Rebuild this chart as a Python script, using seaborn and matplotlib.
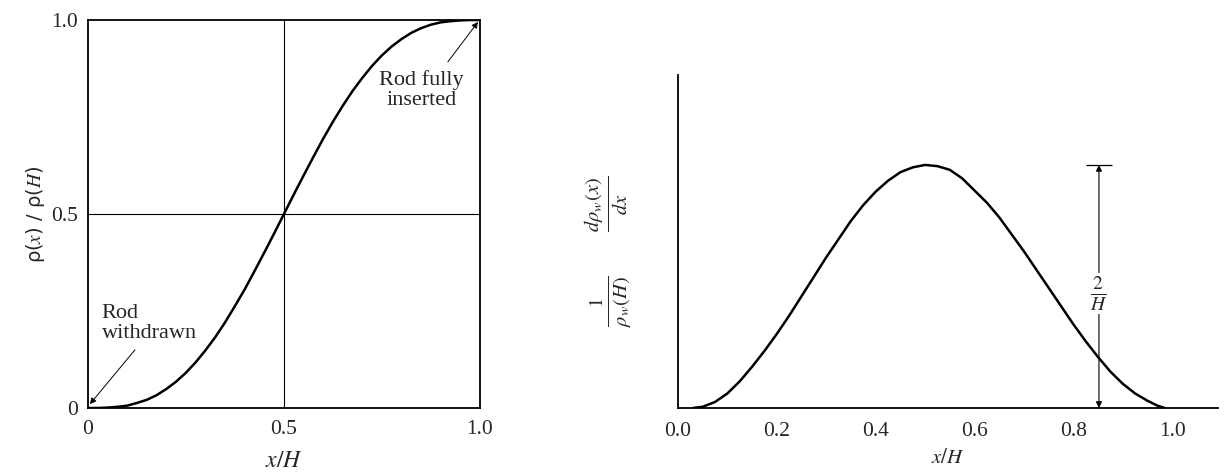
import numpy as np
import pandas as pd
import matplotlib
matplotlib.use("Agg")
import matplotlib.pyplot as plt
import seaborn as sns

# integral rod worth
x_int = [0.000, 0.025, 0.050, 0.075, 0.100, 0.125, 0.150, 0.175, 0.200, 0.225,
         0.250, 0.275, 0.300, 0.325, 0.350, 0.375, 0.400, 0.425, 0.450, 0.475,
         0.500, 0.525, 0.550, 0.575, 0.600, 0.625, 0.650, 0.675, 0.700, 0.725,
         0.750, 0.775, 0.800, 0.825, 0.850, 0.875, 0.900, 0.925, 0.950, 0.975, 1.000]
rho_int = [0.000, 0.000, 0.001, 0.003, 0.006, 0.013, 0.021, 0.033, 0.049, 0.068,
           0.091, 0.118, 0.149, 0.183, 0.221, 0.263, 0.306, 0.353, 0.401, 0.450,
           0.500, 0.550, 0.599, 0.647, 0.694, 0.738, 0.779, 0.817, 0.851, 0.882,
           0.909, 0.932, 0.951, 0.967, 0.979, 0.988, 0.994, 0.997, 0.999, 1.000, 1.000]

# differential rod worth
x_diff = [0.030, 0.050, 0.075, 0.100, 0.125, 0.150, 0.175, 0.200, 0.225, 0.250,
          0.275, 0.300, 0.325, 0.350, 0.375, 0.400, 0.425, 0.450, 0.475, 0.500,
          0.525, 0.550, 0.575, 0.600, 0.625, 0.650, 0.675, 0.700, 0.725, 0.750,
          0.775, 0.800, 0.825, 0.850, 0.875, 0.900, 0.925, 0.950, 0.970, 0.985]
rho_diff = [0.00, 0.01, 0.05, 0.12, 0.22, 0.34, 0.47, 0.61, 0.76, 0.92,
            1.08, 1.24, 1.39, 1.54, 1.67, 1.78, 1.87, 1.94, 1.98, 2.00,
            1.99, 1.96, 1.89, 1.79, 1.69, 1.57, 1.43, 1.29, 1.14, 0.99,
            0.84, 0.69, 0.55, 0.42, 0.30, 0.20, 0.12, 0.06, 0.02, 0.00]

left_ticks = [0, 0.5, 1.0]
left_ticklabels = ["0", "0.5", "1.0"]
right_xticks = [0.0, 0.2, 0.4, 0.6, 0.8, 1.0]
right_xticklabels = ["0.0", "0.2", "0.4", "0.6", "0.8", "1.0"]

peak_x = 0.852   # where the 2/H dimension arrow stands
peak_val = 2.0

df_int = pd.DataFrame({"x": x_int, "rho": rho_int})
df_diff = pd.DataFrame({"x": x_diff, "rho": rho_diff})

sns.set_style("white")
plt.rcParams['font.family'] = ['Liberation Serif', 'DejaVu Serif']
plt.rcParams['mathtext.fontset'] = 'stix'

fig = plt.figure(figsize=(12.25, 4.72), dpi=100)
ax1 = fig.add_axes([0.0718, 0.1356, 0.32, 0.822])
ax2 = fig.add_axes([0.5535, 0.1356, 0.4408, 0.7055])

''' LEFT: integral worth '''
sns.lineplot(data=df_int, x="x", y="rho", ax=ax1, color="black", lw=1.8)
ax1.axhline(0.5, color="black", lw=0.8)
ax1.axvline(0.5, color="black", lw=0.8)
ax1.set_xlim(0, 1)
ax1.set_ylim(0, 1)
ax1.set_xticks(left_ticks)
ax1.set_xticklabels(left_ticklabels)
ax1.set_yticks(left_ticks)
ax1.set_yticklabels(left_ticklabels)
ax1.tick_params(axis="x", length=0, labelsize=15.5, pad=9)
ax1.tick_params(axis="y", length=0, labelsize=15.5, pad=7)
for s in ax1.spines.values():
    s.set_color("black")
    s.set_linewidth(1.3)
ax1.set_xlabel(r"$x/H$", fontsize=17, labelpad=8)
ax1.set_ylabel(r"ρ($x$) / ρ($H$)", fontsize=14, labelpad=3, family=['DejaVu Sans'])

arr = dict(arrowstyle="-|>", color="black", lw=0.7, mutation_scale=9,
           shrinkA=0, shrinkB=0)
ax1.text(0.035, 0.167, "Rod\nwithdrawn", fontsize=16, ha="left", va="bottom",
         linespacing=1.1)
ax1.annotate("", xy=(0.005, 0.01), xytext=(0.12, 0.15), arrowprops=arr)
ax1.text(0.85, 0.768, "Rod fully\ninserted", fontsize=16, ha="center", va="bottom",
         linespacing=1.05)
ax1.annotate("", xy=(0.995, 0.995), xytext=(0.918, 0.892), arrowprops=arr)

''' RIGHT: differential worth '''
sns.lineplot(data=df_diff, x="x", y="rho", ax=ax2, color="black", lw=1.8)
ax2.set_xlim(0, 1.093)
ax2.set_ylim(0, 2.74)
ax2.set_xticks(right_xticks)
ax2.set_xticklabels(right_xticklabels)
ax2.set_yticks([])
ax2.tick_params(axis="x", direction="in", length=8, width=1.1, labelsize=15.5, pad=10)
sns.despine(ax=ax2)
for s in ax2.spines.values():
    s.set_color("black")
    s.set_linewidth(1.3)
ax2.set_xlabel(r"$x/H$", fontsize=15, labelpad=6)
ax2.set_ylabel(r"$\frac{1}{\rho_w(H)}\qquad\frac{d\rho_w(x)}{dx}$", fontsize=21)
ax2.yaxis.set_label_coords(-0.083, 0.47)

ax2.annotate("", xy=(peak_x, 0), xytext=(peak_x, peak_val),
             arrowprops=dict(arrowstyle="<|-|>", color="black", lw=0.8,
                             mutation_scale=9, shrinkA=0, shrinkB=0))
ax2.hlines(peak_val, peak_x - 0.027, peak_x + 0.027, color="black", lw=0.9)
ax2.text(peak_x, 0.94, r"$\frac{2}{H}$", fontsize=20, ha="center", va="center",
         bbox=dict(facecolor="white", edgecolor="none", pad=1))

fig.savefig("out.png", dpi=100)
